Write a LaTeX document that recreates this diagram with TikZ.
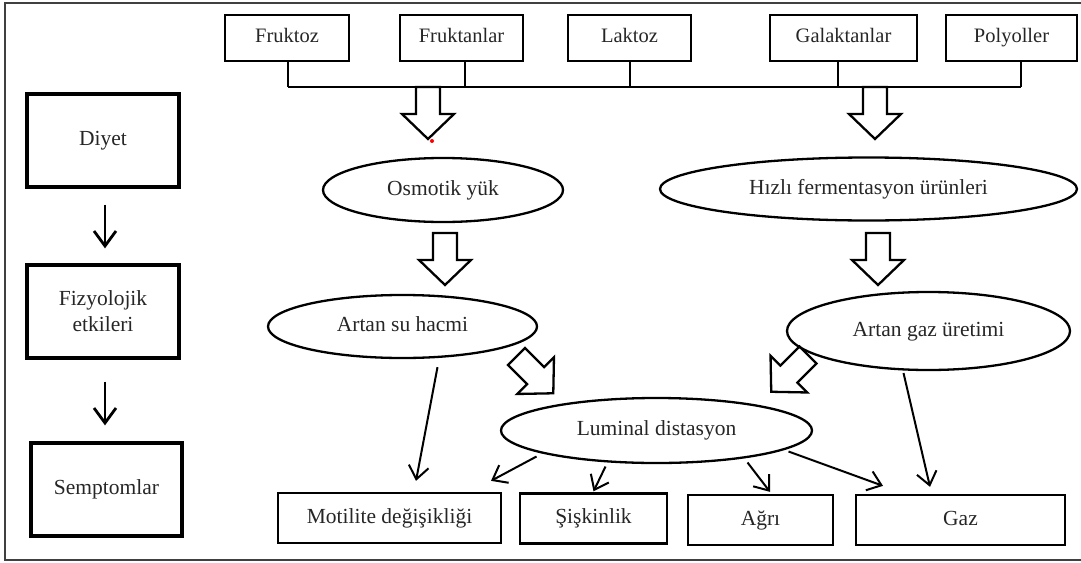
\documentclass[tikz,border=0pt]{standalone}
\usepackage{fontspec}
\setmainfont{Liberation Serif}
\usetikzlibrary{arrows.meta,shapes.geometric,calc}
\begin{document}
\begin{tikzpicture}[x=1pt,y=-1pt,
  topbox/.style={draw, line width=2.3pt, minimum height=46pt, inner sep=0pt, text height=14pt, text depth=4.5pt, font=\fontsize{20.5}{24}\selectfont, text=black!85},
  botbox/.style={draw, line width=2.3pt, minimum height=50pt, inner sep=0pt, text height=14.5pt, text depth=4.5pt, font=\fontsize{21.5}{26}\selectfont, text=black!85},
  sidebox/.style={draw, line width=3.3pt, minimum width=152pt, minimum height=93pt, inner sep=0pt, align=center, font=\fontsize{21.5}{26}\selectfont, text=black!85},
  oval/.style={draw, ellipse, line width=2.3pt, inner sep=0pt, text height=14.5pt, text depth=4.5pt, font=\fontsize{21.5}{26}\selectfont, text=black!85},
  thinarr/.style={line width=2pt, -{Straight Barb[length=13pt,width=20pt,line width=2pt]}},
  sidearr/.style={line width=2.8pt, -{Straight Barb[length=15pt,width=22pt,line width=2.8pt]}},
  blockline/.style={line width=2.3pt, line join=miter},
  blockarr/.pic={\draw[blockline] (-12,0) -- (-12,27) -- (-26,27) -- (0,52) -- (26,27) -- (12,27) -- (12,0) -- cycle;}
]
\useasboundingbox (0,0) rectangle (1081,562);
% outer frame
\draw[line width=2.4pt, black!75] (1081,3) -- (5,3) -- (5,560) -- (1081,560);

% top boxes
\node[topbox, minimum width=124pt] (fr) at (287,38) {Fruktoz};
\node[topbox, minimum width=123pt] (fa) at (461.5,38) {Fruktanlar};
\node[topbox, minimum width=123pt] (la) at (629.5,38) {Laktoz};
\node[topbox, minimum width=147pt] (ga) at (843.5,38) {Galaktanlar};
\node[topbox, minimum width=131pt] (po) at (1011.5,38) {Polyoller};

% bus
\coordinate (busL) at (288,87);
\coordinate (busR) at (1021,87);
\draw[line width=2.3pt] (busL) -- (busR);
\draw[line width=2.3pt] ([xshift=1pt]fr.south) -- ([xshift=1pt]fr.south |- busL);
\draw[line width=2.3pt] ([xshift=3.5pt]fa.south) -- ([xshift=3.5pt]fa.south |- busL);
\draw[line width=2.3pt] ([xshift=0.5pt]la.south) -- ([xshift=0.5pt]la.south |- busL);
\draw[line width=2.3pt] ([xshift=-5.5pt]ga.south) -- ([xshift=-5.5pt]ga.south |- busL);
\draw[line width=2.3pt] ([xshift=9.5pt]po.south) -- ([xshift=9.5pt]po.south |- busL);

% side column
\node[sidebox] (di) at (103,140.5) {Diyet};
\node[sidebox] (fz) at (103,311.5) {Fizyolojik\\etkileri};
\node[sidebox, minimum width=151pt] (se) at (106.5,489.5) {Semptomlar};
\draw[sidearr, shorten <=16pt, shorten >=15pt] ([xshift=2pt]di.south) -- ([xshift=2pt]fz.north);
\draw[sidearr, shorten <=22pt, shorten >=16pt] ([xshift=2pt]fz.south) -- ([xshift=-1.5pt]se.north);

% ellipses
\node[oval, minimum width=240pt, minimum height=64pt] (os) at (443,190) {Osmotik yük};
\node[oval, minimum width=417pt, minimum height=63pt] (hf) at (868.5,189) {Hızlı fermentasyon ürünleri};
\node[oval, minimum width=269pt, minimum height=63pt] (su) at (402.5,326.5) {Artan su hacmi};
\node[oval, minimum width=283pt, minimum height=78pt] (gu) at (928.5,331) {Artan gaz üretimi};
\node[oval, minimum width=311pt, minimum height=65pt] (lu) at (656.5,430.5) {Luminal distasyon};

% bottom boxes
\node[botbox, minimum width=223pt] (mo) at (389.5,518) {Motilite değişikliği};
\node[botbox, minimum width=147pt] (si) at (593.5,518.5) {Şişkinlik};
\node[botbox, minimum width=145pt] (ag) at (760.5,520) {Ağrı};
\node[botbox, minimum width=209pt] (gz) at (960.5,520) {Gaz};

% block arrows
\pic at (428,87) {blockarr};
\pic at (875,87) {blockarr};
\pic at (445,233) {blockarr};
\pic at (878,233) {blockarr};
\pic[rotate=45] at (516.5,356.5) {blockarr};
\pic[rotate=-45] at (808,355) {blockarr};
\fill[red] (432,141) circle (2pt);

% thin arrows
\draw[thinarr] ([xshift=35pt,yshift=-8pt]su.south) -- ([xshift=26.5pt,yshift=11pt]mo.north);
\draw[thinarr] ([xshift=-120pt,yshift=-26pt]lu.center) -- ([xshift=101.5pt,yshift=11pt]mo.north);
\draw[thinarr] ([xshift=-51pt,yshift=-36pt]lu.center) -- ([yshift=1pt]si.north);
\draw[thinarr] ([xshift=91pt,yshift=-32pt]lu.center) -- ([xshift=9.5pt,yshift=2pt]ag.north);
\draw[thinarr] ([xshift=132pt,yshift=-21pt]lu.center) -- ([xshift=-77.5pt,yshift=8pt]gz.north);
\draw[thinarr] ([xshift=-25pt,yshift=-42pt]gu.center) -- ([xshift=-30.5pt,yshift=7pt]gz.north);
\end{tikzpicture}
\end{document}
